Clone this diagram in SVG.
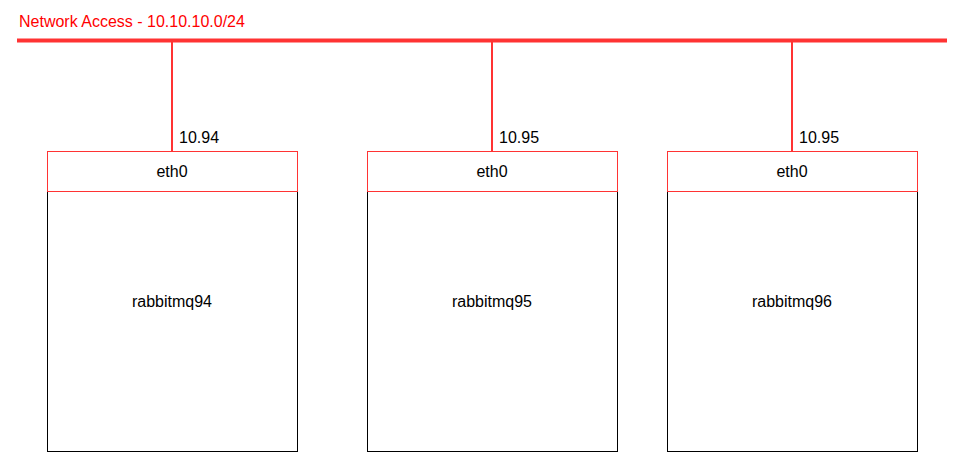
<svg xmlns="http://www.w3.org/2000/svg" width="963" height="475" viewBox="0 0 963 475">
<style>
text{font-family:"Liberation Sans",Arial,sans-serif;font-size:16px;fill:#000}
.title{fill:#FF0000}
.link{stroke:#FF3333;stroke-width:2;fill:none}
.bus{stroke:#FF3333;stroke-width:4;fill:none}
.host{fill:#fff;stroke:#000;stroke-width:1}
.nic{fill:#fff;stroke:#FF3333;stroke-width:1}
.c{text-anchor:middle}
</style>
<rect width="963" height="475" fill="#fff"/>
<g id="network">
<text class="title" x="19" y="27">Network Access - 10.10.10.0/24</text>
</g>
<g id="connectors">
<line class="bus" x1="17" y1="40.5" x2="947" y2="40.5"/>
<line class="link" x1="172" y1="42" x2="172" y2="151"/>
<line class="link" x1="492" y1="42" x2="492" y2="151"/>
<line class="link" x1="792" y1="42" x2="792" y2="151"/>
<text x="179" y="143">10.94</text>
<text x="499" y="143">10.95</text>
<text x="799" y="143">10.95</text>
</g>
<g id="rabbitmq94">
<rect class="host" x="47.5" y="151.5" width="250" height="300"/>
<rect class="nic" x="47.5" y="151.5" width="250" height="40"/>
<text class="c" x="172" y="177">eth0</text>
<text class="c" x="172" y="307">rabbitmq94</text>
</g>
<g id="rabbitmq95">
<rect class="host" x="367.5" y="151.5" width="250" height="300"/>
<rect class="nic" x="367.5" y="151.5" width="250" height="40"/>
<text class="c" x="492" y="177">eth0</text>
<text class="c" x="492" y="307">rabbitmq95</text>
</g>
<g id="rabbitmq96">
<rect class="host" x="667.5" y="151.5" width="250" height="300"/>
<rect class="nic" x="667.5" y="151.5" width="250" height="40"/>
<text class="c" x="792" y="177">eth0</text>
<text class="c" x="792" y="307">rabbitmq96</text>
</g>
</svg>
